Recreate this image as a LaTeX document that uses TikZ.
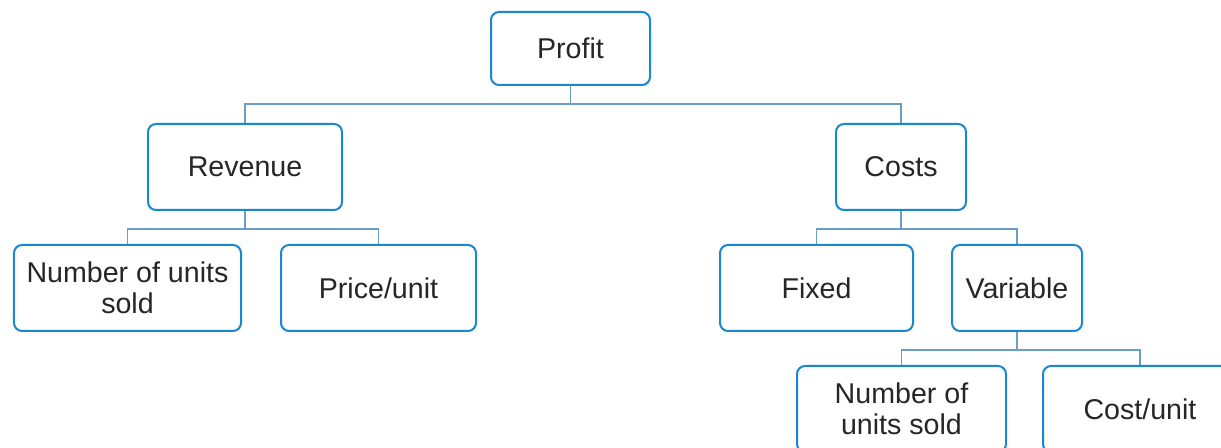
\documentclass[tikz,border=0pt]{standalone}
\usepackage{fontspec}
\setmainfont{Liberation Sans}
\usetikzlibrary{backgrounds}
\definecolor{boxblue}{HTML}{1B87D1}
\definecolor{linkblue}{HTML}{6C9DC7}
\definecolor{ink}{HTML}{262626}
\tikzset{
  box/.style={draw=boxblue, line width=2bp, rounded corners=8bp, fill=white,
    inner sep=0pt, align=center, text=ink,
    font=\fontsize{28.6bp}{31bp}\selectfont},
  link/.style={draw=linkblue, line width=1.6bp}
}
\begin{document}
\begin{tikzpicture}[x=1bp,y=-1bp]
  \useasboundingbox (0,0) rectangle (1221,448);
  \clip (0,0) rectangle (1221,448);

  % top level
  \node[box, minimum width=159bp, minimum height=73bp] (profit) at (570.5,48.5) {Profit};

  % second level
  \node[box, minimum width=194bp, minimum height=86bp] (revenue) at (245,167) {Revenue};
  \node[box, minimum width=130bp, minimum height=86bp] (costs) at (901,167) {Costs};

  % third level
  \node[box, minimum width=227bp, minimum height=86bp] (units) at (127.5,288) {Number of units\\sold};
  \node[box, minimum width=195bp, minimum height=86bp] (price) at (378.5,288) {Price/unit};
  \node[box, minimum width=193bp, minimum height=86bp] (fixed) at (816.5,288) {Fixed};
  \node[box, minimum width=130bp, minimum height=86bp] (variable) at (1017,288) {Variable};

  % fourth level
  \node[box, minimum width=209bp, minimum height=86bp] (varunits) at (901.5,409) {Number of\\units sold};
  \node[box, minimum width=194bp, minimum height=86bp] (costunit) at (1140,409) {Cost/unit};

  % connectors
  \begin{scope}[on background layer]
    \draw[link] (profit.south) -- ++(0,18) -| (revenue.north);
    \draw[link] (profit.south) -- ++(0,18) -| (costs.north);
    \draw[link] (revenue.south) -- ++(0,18) -| (units.north);
    \draw[link] (revenue.south) -- ++(0,18) -| (price.north);
    \draw[link] (costs.south) -- ++(0,18) -| (fixed.north);
    \draw[link] (costs.south) -- ++(0,18) -| (variable.north);
    \draw[link] (variable.south) -- ++(0,18) -| (varunits.north);
    \draw[link] (variable.south) -- ++(0,18) -| (costunit.north);
  \end{scope}
\end{tikzpicture}
\end{document}
